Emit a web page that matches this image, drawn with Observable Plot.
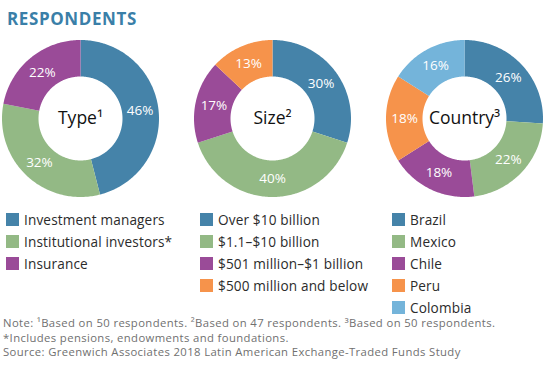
<!DOCTYPE html>
<html><head><meta charset="utf-8">
<script src="https://cdn.jsdelivr.net/npm/d3@7"></script>
<script src="https://cdn.jsdelivr.net/npm/@observablehq/plot@0.6"></script>
<style>
body{margin:0;background:#fff;font-family:"Open Sans",sans-serif;width:543px;height:375px;position:relative;overflow:hidden}
#title{position:absolute;left:7px;top:7px;font-size:17px;font-weight:700;color:#3a7fa8;letter-spacing:0.6px}
#chart{position:absolute;left:0;top:34px}
.legend{position:absolute;top:208px;font-size:13.6px;letter-spacing:0.15px;color:#2b2b2b}
.legend div{height:22px;display:flex;align-items:center;white-space:nowrap}
.legend span.sw{display:inline-block;width:13px;height:13px;margin-right:5px;flex:none}
#notes{position:absolute;left:3px;top:316.4px;font-size:11.3px;letter-spacing:0.38px;color:#707070;line-height:14.3px;white-space:nowrap}
</style></head>
<body>
<div id="title">RESPONDENTS</div>
<div id="chart"></div>
<div id="notes"></div>
<script>
const sliceColors = ["#4583a9", "#93b985", "#9a4b98", "#f6934b", "#74b4da"];

const chartNames = ["Type¹", "Size²", "Country³"];

const typeLabels = ["Investment managers", "Institutional investors*", "Insurance"];
const typeValues = [46, 32, 22];

const sizeLabels = ["Over $10 billion", "$1.1–$10 billion", "$501 million–$1 billion", "$500 million and below"];
const sizeValues = [30, 40, 17, 13];

const countryLabels = ["Brazil", "Mexico", "Chile", "Peru", "Colombia"];
const countryValues = [26, 22, 18, 18, 16];

const noteLines = [
  "Note: ¹Based on 50 respondents. ²Based on 47 respondents. ³Based on 50 respondents.",
  "*Includes pensions, endowments and foundations.",
  "Source: Greenwich Associates 2018 Latin American Exchange-Traded Funds Study"
];

// layout
const W = 543, H = 170;
const centersX = [80, 272, 464], centerY = 84;
const rOuter = 78.5, rInner = 42, rLabel = 60;

const groups = [
  {labels: typeLabels, values: typeValues},
  {labels: sizeLabels, values: sizeValues},
  {labels: countryLabels, values: countryValues}
];

const polys = [], labels = [], centers = [];
groups.forEach((g, gi) => {
  const cx = centersX[gi];
  const total = d3.sum(g.values);
  let acc = 0;
  centers.push({x: cx, y: centerY, text: chartNames[gi]});
  g.values.forEach((v, i) => {
    const a0 = acc / total * 2 * Math.PI;
    acc += v;
    const a1 = acc / total * 2 * Math.PI;
    const id = gi + "-" + i;
    const n = Math.max(2, Math.ceil((a1 - a0) / (Math.PI / 180)));
    const pts = [];
    for (let k = 0; k <= n; k++) {
      const a = a0 + (a1 - a0) * k / n;
      pts.push({x: cx + rOuter * Math.sin(a), y: centerY - rOuter * Math.cos(a), id, c: i});
    }
    for (let k = n; k >= 0; k--) {
      const a = a0 + (a1 - a0) * k / n;
      pts.push({x: cx + rInner * Math.sin(a), y: centerY - rInner * Math.cos(a), id, c: i});
    }
    polys.push(...pts);
    const am = (a0 + a1) / 2;
    labels.push({x: cx + rLabel * Math.sin(am), y: centerY - rLabel * Math.cos(am), text: v + "%"});
  });
});

const plot = Plot.plot({
  width: W, height: H,
  margin: 0,
  x: {domain: [0, W], range: [0, W], axis: null},
  y: {domain: [0, H], range: [0, H], axis: null},
  color: {domain: d3.range(sliceColors.length), range: sliceColors},
  style: {fontFamily: "'Open Sans', sans-serif", background: "transparent"},
  marks: [
    Plot.line(polys, {x: "x", y: "y", z: "id", fill: "c", stroke: "none", curve: "linear"}),
    Plot.text(labels, {x: "x", y: "y", text: "text", fill: "white", fontSize: 13.5, fontWeight: 500}),
    Plot.text(centers, {x: "x", y: "y", text: "text", fill: "#111", fontSize: 17.5})
  ]
});
document.getElementById("chart").appendChild(plot);

const legendX = [6, 200, 392];
groups.forEach((g, gi) => {
  const div = document.createElement("div");
  div.className = "legend";
  div.style.left = legendX[gi] + "px";
  g.labels.forEach((l, i) => {
    const row = document.createElement("div");
    const sw = document.createElement("span");
    sw.className = "sw";
    sw.style.background = sliceColors[i];
    row.appendChild(sw);
    row.appendChild(document.createTextNode(l));
    div.appendChild(row);
  });
  document.body.appendChild(div);
});

const notes = document.getElementById("notes");
notes.innerHTML = noteLines.map(s => "<div>" + s.replace(/&/g,"&amp;") + "</div>").join("");
</script>
</body></html>
